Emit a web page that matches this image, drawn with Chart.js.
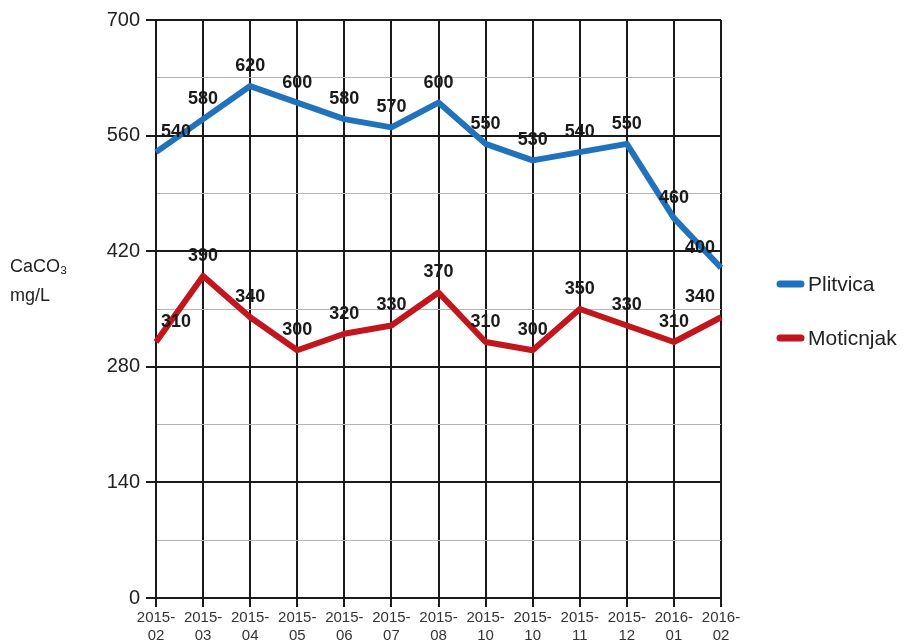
<!DOCTYPE html>
<html>
<head>
<meta charset="utf-8">
<script src="https://cdn.jsdelivr.net/npm/chart.js@4.4.0/dist/chart.umd.min.js"></script>
<style>
  html, body { margin: 0; padding: 0; background: #ffffff; }
  #wrap { position: relative; width: 904px; height: 643px; }
</style>
</head>
<body>
<div id="wrap"><canvas id="c" width="904" height="643"></canvas></div>
<script>
const categories = [
  ["2015-","02"], ["2015-","03"], ["2015-","04"], ["2015-","05"], ["2015-","06"],
  ["2015-","07"], ["2015-","08"], ["2015-","10"], ["2015-","10"], ["2015-","11"],
  ["2015-","12"], ["2016-","01"], ["2016-","02"]
];
const plitvica = [540, 580, 620, 600, 580, 570, 600, 550, 530, 540, 550, 460, 400];
const moticnjak = [310, 390, 340, 300, 320, 330, 370, 310, 300, 350, 330, 310, 340];
const seriesNames = ["Plitvica", "Moticnjak"];
const seriesColors = ["#1f72bb", "#c3161c"];
const yTitle = ["CaCO\u2083", "mg/L"];
const yMin = 0, yMax = 700, yStep = 70, yMajor = 140;

const FONT = "'Liberation Sans', Arial, sans-serif";

const dataLabels = {
  id: 'dataLabels',
  afterDatasetsDraw(chart) {
    const ctx = chart.ctx;
    ctx.save();
    ctx.font = "bold 18px " + FONT;
    ctx.fillStyle = "#1a1a1a";
    ctx.textBaseline = "middle";
    chart.data.datasets.forEach((ds, di) => {
      const meta = chart.getDatasetMeta(di);
      const n = meta.data.length;
      meta.data.forEach((pt, i) => {
        let x = pt.x, align = 'center';
        if (i === 0) { align = 'left'; x = pt.x + 5; }
        else if (i === n - 1) { align = 'right'; x = pt.x - 6; }
        ctx.textAlign = align;
        ctx.fillText(String(ds.data[i]), x, pt.y - 20);
      });
    });
    ctx.restore();
  }
};

const extras = {
  id: 'extras',
  afterDraw(chart) {
    const ctx = chart.ctx;
    ctx.save();
    // y-axis title
    ctx.font = "18px " + FONT;
    ctx.fillStyle = "#222";
    ctx.textAlign = "left";
    ctx.textBaseline = "middle";
    ctx.fillText(yTitle[0], 10, 267);
    ctx.fillText(yTitle[1], 10, 296);
    // legend
    const ys = [284, 338];
    chart.data.datasets.forEach((ds, i) => {
      const y = ys[i];
      ctx.strokeStyle = ds.borderColor;
      ctx.lineWidth = 7;
      ctx.lineCap = 'round';
      ctx.beginPath();
      ctx.moveTo(780, y);
      ctx.lineTo(801, y);
      ctx.stroke();
      ctx.font = "21px " + FONT;
      ctx.fillStyle = "#222";
      ctx.textAlign = "left";
      ctx.fillText(ds.label, 808, y + 1);
    });
    ctx.restore();
  }
};

new Chart(document.getElementById('c'), {
  type: 'line',
  data: {
    labels: categories,
    datasets: [
      { label: seriesNames[0], data: plitvica, borderColor: seriesColors[0], backgroundColor: seriesColors[0],
        borderWidth: 6, pointRadius: 0, tension: 0, fill: false, borderJoinStyle: 'round', borderCapStyle: 'butt' },
      { label: seriesNames[1], data: moticnjak, borderColor: seriesColors[1], backgroundColor: seriesColors[1],
        borderWidth: 6, pointRadius: 0, tension: 0, fill: false, borderJoinStyle: 'round', borderCapStyle: 'butt' }
    ]
  },
  options: {
    responsive: false,
    animation: false,
    layout: { padding: { top: 20, right: 183, left: 0, bottom: 0 } },
    plugins: { legend: { display: false }, tooltip: { enabled: false } },
    scales: {
      x: {
        offset: false,
        grid: { color: '#1a1a1a', lineWidth: 2, tickLength: 9, drawTicks: true, tickColor: '#1a1a1a' },
        border: { display: true, color: '#1a1a1a', width: 2 },
        ticks: { color: '#333', font: { family: FONT, size: 15 }, maxRotation: 0, autoSkip: false, padding: 2 },
        afterFit(scale) { scale.height = 45; }
      },
      y: {
        min: yMin, max: yMax,
        grid: {
          color: (c) => (c.tick && c.tick.value % yMajor === 0) ? '#1a1a1a' : '#b5b5b5',
          lineWidth: (c) => (c.tick && c.tick.value % yMajor === 0) ? 2 : 1,
          tickLength: 10,
          tickColor: (c) => (c.tick && c.tick.value % yMajor === 0) ? '#1a1a1a' : 'rgba(0,0,0,0)'
        },
        border: { display: true, color: '#1a1a1a', width: 2 },
        ticks: {
          stepSize: yStep, color: '#222', font: { family: FONT, size: 20 }, padding: 6,
          callback: (v) => (v % yMajor === 0) ? String(v) : ''
        },
        afterFit(scale) { scale.width = 156; }
      }
    }
  },
  plugins: [dataLabels, extras]
});
</script>
</body>
</html>
